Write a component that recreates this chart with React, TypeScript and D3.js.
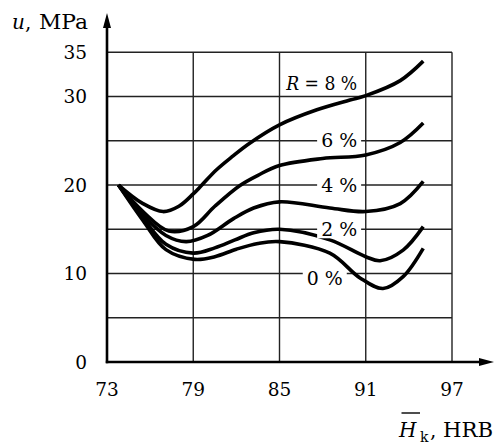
import React from "react";
import * as d3 from "d3";

// ---- data ----
const xTicks = [73, 79, 85, 91, 97];
const yGrid = [5, 10, 15, 20, 25, 30, 35];
const yTickLabels = [0, 10, 20, 30, 35];

const hk8 = [73.8, 75.5, 76.9, 78.0, 79.0, 79.6, 80.6, 81.7, 82.9, 85.0, 87.6, 89.9, 91.0, 93.4, 95.0];
const u8 = [20.0, 17.9, 17.0, 17.6, 19.0, 20.0, 21.7, 23.2, 24.7, 26.8, 28.5, 29.6, 30.1, 31.8, 34.0];

const hk6 = [73.8, 75.5, 77.3, 79.0, 80.5, 82.2, 83.5, 85.0, 88.0, 91.0, 93.4, 95.0];
const u6 = [20.0, 17.0, 14.8, 15.3, 17.6, 19.9, 21.1, 22.2, 23.0, 23.4, 24.8, 27.0];

const hk4 = [73.8, 75.5, 77.1, 78.5, 80.0, 81.8, 83.2, 85.0, 88.5, 91.0, 93.4, 95.0];
const u4 = [20.0, 16.6, 14.3, 13.6, 14.3, 16.2, 17.4, 18.1, 17.4, 17.0, 17.9, 20.4];

const hk2 = [73.8, 75.5, 77.1, 79.0, 80.5, 81.9, 83.2, 85.0, 88.5, 91.0, 92.0, 93.6, 95.0];
const u2 = [20.0, 16.3, 13.3, 12.3, 12.9, 13.8, 14.6, 15.0, 13.8, 11.9, 11.45, 12.65, 15.3];

const hk0 = [73.8, 75.5, 77.1, 79.1, 80.5, 82.0, 83.5, 85.0, 88.5, 90.6, 92.2, 93.6, 95.0];
const u0 = [20.0, 16.0, 12.7, 11.6, 11.9, 12.75, 13.4, 13.6, 12.3, 9.5, 8.3, 9.65, 12.85];

const seriesX = [hk8, hk6, hk4, hk2, hk0];
const seriesY = [u8, u6, u4, u2, u0];

const labelTexts = ["8 %", "6 %", "4 %", "2 %", "0 %"];
const labelX = [90.4, 90.4, 90.4, 90.4, 89.4];
const labelY = [31.5, 25, 20, 15, 9.4];

export default function App() {
  const x = d3.scaleLinear().domain([73, 97]).range([107, 452]);
  const y = d3.scaleLinear().domain([0, 35]).range([362, 52.3]);
  const line = d3
    .line<[number, number]>()
    .x((d) => x(d[0]))
    .y((d) => y(d[1]))
    .curve(d3.curveCatmullRom.alpha(0.5));

  const font = "DejaVu Serif";
  const fs = 18.5;
  const grid = "#222";

  return (
    <svg
      width={497}
      height={448}
      style={{ position: "absolute", left: 0, top: 0, background: "#fff", fontFamily: font }}
    >
      <rect x={0} y={0} width={497} height={448} fill="#fff" />
      {/* grid */}
      {yGrid.map((v) => (
        <line key={"h" + v} x1={x(73)} x2={x(97)} y1={y(v)} y2={y(v)} stroke={grid} strokeWidth={1.4} />
      ))}
      {xTicks.slice(1).map((v) => (
        <line key={"v" + v} x1={x(v)} x2={x(v)} y1={y(35)} y2={y(0)} stroke={grid} strokeWidth={1.4} />
      ))}

      {/* curves */}
      {seriesX.map((xs, i) => (
        <path
          key={"c" + i}
          d={line(xs.map((v, j) => [v, seriesY[i][j]] as [number, number])) || ""}
          fill="none"
          stroke="#000"
          strokeWidth={3.6}
          strokeLinecap="butt"
          strokeLinejoin="round"
        />
      ))}

      {/* curve labels */}
      {labelTexts.map((t, i) => {
        const w = i === 0 ? 71 : 36;
        const ex = x(labelX[i]);
        const cy = y(labelY[i]);
        return (
          <g key={"l" + i}>
            {i > 0 && <rect x={ex - w - 4} y={cy - 9} width={w + 8} height={18} fill="#fff" />}
            <text
              x={ex}
              y={cy}
              textAnchor="end"
              dominantBaseline="central"
              textLength={w}
              lengthAdjust="spacingAndGlyphs"
              style={{ fontFamily: font, fontSize: fs }}
            >
              {i === 0 ? (
                <>
                  <tspan fontStyle="italic">R</tspan>
                  {" = " + t}
                </>
              ) : (
                t
              )}
            </text>
          </g>
        );
      })}

      {/* axes */}
      <line x1={x(73)} x2={x(73)} y1={y(0) + 1.2} y2={24} stroke="#000" strokeWidth={2.6} />
      <path d={`M${x(73)},13 L${x(73) - 4},28 L${x(73) + 4},28 Z`} fill="#000" />
      <line x1={x(73) - 1.2} x2={482} y1={y(0)} y2={y(0)} stroke="#000" strokeWidth={2.6} />
      <path d={`M494,${y(0)} L479,${y(0) - 4} L479,${y(0) + 4} Z`} fill="#000" />

      {/* tick labels */}
      {yTickLabels.map((v) => (
        <text
          key={"yt" + v}
          x={87}
          y={y(v)}
          textAnchor="end"
          dominantBaseline="central"
          style={{ fontFamily: font, fontSize: fs }}
        >
          {v}
        </text>
      ))}
      {xTicks.map((v) => (
        <text key={"xt" + v} x={x(v)} y={396} textAnchor="middle" style={{ fontFamily: font, fontSize: fs }}>
          {v}
        </text>
      ))}

      {/* axis titles */}
      <text x={12} y={29} style={{ fontFamily: font, fontSize: 20 }}>
        <tspan fontStyle="italic">u</tspan>
        <tspan>,</tspan>
      </text>
      <text x={39} y={29} textLength={49} lengthAdjust="spacingAndGlyphs" style={{ fontFamily: font, fontSize: 20 }}>
        MPa
      </text>

      <text x={399} y={437} fontStyle="italic" style={{ fontFamily: font, fontSize: 20 }}>
        H
      </text>
      <line x1={401.5} x2={420} y1={413} y2={413} stroke="#000" strokeWidth={1.4} />
      <text x={420} y={442} style={{ fontFamily: font, fontSize: 14 }}>
        k
      </text>
      <text x={430} y={437} style={{ fontFamily: font, fontSize: 20 }}>
        ,
      </text>
      <text x={443} y={437} textLength={50} lengthAdjust="spacingAndGlyphs" style={{ fontFamily: font, fontSize: 20 }}>
        HRB
      </text>
    </svg>
  );
}
